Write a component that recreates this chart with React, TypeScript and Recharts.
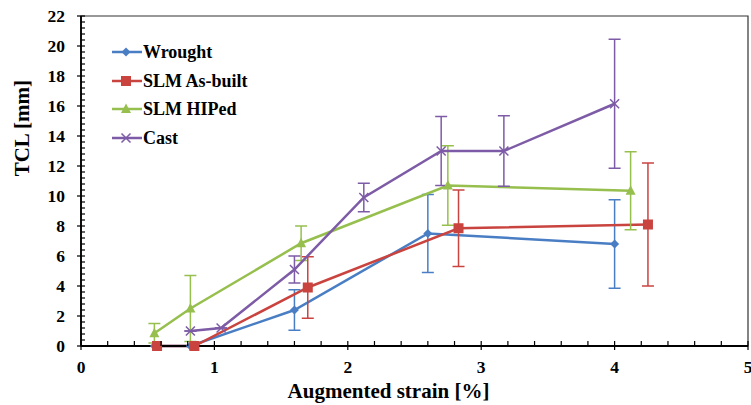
import {
  ComposedChart,
  Line,
  XAxis,
  YAxis,
  ErrorBar,
  ReferenceArea,
} from 'recharts';

// ---- data ----
const wroughtX = [0.55, 0.82, 1.6, 2.6, 4.0];
const wroughtY = [0, 0, 2.4, 7.5, 6.8];
const wroughtErr = [0, 0, 1.35, 2.6, 2.95];

const asBuiltX = [0.57, 0.85, 1.7, 2.83, 4.25];
const asBuiltY = [0, 0, 3.9, 7.85, 8.1];
const asBuiltErr = [0, 0, 2.05, 2.55, 4.1];

const hipedX = [0.55, 0.82, 1.65, 2.75, 4.12];
const hipedY = [0.85, 2.5, 6.85, 10.7, 10.35];
const hipedErr = [0.65, 2.2, 1.15, 2.65, 2.6];

const castX = [0.82, 1.05, 1.6, 2.12, 2.7, 3.17, 4.0];
const castY = [1.0, 1.2, 5.1, 9.9, 13.0, 13.0, 16.15];
const castErr = [0, 0, 0.9, 0.95, 2.3, 2.35, 4.3];

const xLabels = [0, 1, 2, 3, 4, 5];
const yLabels = [0, 2, 4, 6, 8, 10, 12, 14, 16, 18, 20, 22];

const FONT = '"Liberation Serif", "Times New Roman", serif';

type Marker = 'diamond' | 'square' | 'triangle' | 'cross';

const build = (xs: number[], ys: number[], es: number[]) =>
  xs.map((x, i) => ({ x, y: ys[i], err: [es[i], es[i]] }));

const series = [
  { name: 'Wrought', color: '#4A7EC4', marker: 'diamond' as Marker, data: build(wroughtX, wroughtY, wroughtErr) },
  { name: 'SLM As-built', color: '#C9433F', marker: 'square' as Marker, data: build(asBuiltX, asBuiltY, asBuiltErr) },
  { name: 'SLM HIPed', color: '#96BF4E', marker: 'triangle' as Marker, data: build(hipedX, hipedY, hipedErr) },
  { name: 'Cast', color: '#7D5BA6', marker: 'cross' as Marker, data: build(castX, castY, castErr) },
];

// minor tick positions (axis decoration only)
const steps = (max: number, step: number) =>
  Array.from({ length: Math.round(max / step) + 1 }, (_, i) => +(i * step).toFixed(2));
const xTicks = steps(5, 0.2);
const yTicks = steps(22, 0.4);

function MarkerShape({ cx, cy, kind, color }: { cx: number; cy: number; kind: Marker; color: string }) {
  switch (kind) {
    case 'diamond':
      return <path d={`M${cx},${cy - 4.5}L${cx + 4.5},${cy}L${cx},${cy + 4.5}L${cx - 4.5},${cy}Z`} fill={color} />;
    case 'square':
      return <rect x={cx - 5} y={cy - 5} width={10} height={10} fill={color} />;
    case 'triangle':
      return <path d={`M${cx},${cy - 5.5}L${cx + 5},${cy + 4}L${cx - 5},${cy + 4}Z`} fill={color} />;
    default:
      return (
        <path
          d={`M${cx - 4.5},${cy - 4.5}L${cx + 4.5},${cy + 4.5}M${cx - 4.5},${cy + 4.5}L${cx + 4.5},${cy - 4.5}`}
          stroke={color}
          strokeWidth={1.5}
        />
      );
  }
}

const makeDot = (kind: Marker, color: string) => (props: any) => {
  const { cx, cy, index } = props;
  if (cx == null || cy == null) return <g key={index} />;
  return (
    <g key={`${kind}-${index}`}>
      <MarkerShape cx={cx} cy={cy} kind={kind} color={color} />
    </g>
  );
};

const labelStyle = { fontFamily: FONT, fontWeight: 700, fontSize: 17.5 };
const titleStyle = { fontFamily: FONT, fontWeight: 700, fontSize: 21 };

// bottom axis: minor ticks point inward, major ticks cross the axis
function XTick(props: any) {
  const { x, y, payload } = props;
  const v = payload.value;
  const major = xLabels.includes(v);
  return (
    <g>
      <line x1={x} y1={y - 5} x2={x} y2={major ? y + 4 : y} stroke="#000" strokeWidth={1.2} />
      {major && (
        <text x={x} y={y + 27} textAnchor="middle" style={labelStyle} fill="#000">
          {v}
        </text>
      )}
    </g>
  );
}

function YTick(props: any) {
  const { x, y, payload } = props;
  const v = payload.value;
  const major = yLabels.includes(v);
  return (
    <g>
      <line x1={major ? x - 4 : x} y1={y} x2={x + 4} y2={y} stroke="#000" strokeWidth={1.2} />
      {major && (
        <text x={x - 16} y={y + 6} textAnchor="end" style={labelStyle} fill="#000">
          {v}
        </text>
      )}
    </g>
  );
}

function LegendBox() {
  return (
    <div
      style={{
        position: 'absolute',
        left: 112,
        top: 38,
        fontFamily: FONT,
        fontWeight: 700,
        fontSize: 18,
        color: '#000',
        lineHeight: 1,
      }}
    >
      {series.map((s) => (
        <div key={s.name} style={{ display: 'flex', alignItems: 'center', height: 28.5 }}>
          <svg width={30} height={14} style={{ marginRight: 1 }}>
            <line x1={0} y1={7} x2={30} y2={7} stroke={s.color} strokeWidth={2.5} />
            <MarkerShape cx={14} cy={7} kind={s.marker} color={s.color} />
          </svg>
          <span>{s.name}</span>
        </div>
      ))}
    </div>
  );
}

export default function App() {
  return (
    <div style={{ position: 'absolute', left: 0, top: 0, width: 751, height: 405, background: '#fff' }}>
      <ComposedChart width={751} height={405} margin={{ top: 16, right: 3, left: 0, bottom: 0 }}>
        <XAxis
          type="number"
          dataKey="x"
          domain={[0, 5]}
          ticks={xTicks}
          interval={0}
          height={59}
          tickSize={0}
          tickMargin={0}
          tick={<XTick />}
          tickLine={false}
          axisLine={{ stroke: '#000', strokeWidth: 1.8 }}
          label={(props: any) => {
            const vb = props.viewBox;
            return (
              <text
                x={vb.x + vb.width / 2 - 26}
                y={vb.y + 52}
                textAnchor="middle"
                style={titleStyle}
                fill="#000"
              >
                Augmented strain [%]
              </text>
            );
          }}
        />
        <YAxis
          type="number"
          domain={[0, 22]}
          ticks={yTicks}
          interval={0}
          width={81}
          tickSize={0}
          tickMargin={0}
          tick={<YTick />}
          tickLine={false}
          axisLine={{ stroke: '#000', strokeWidth: 1.8 }}
          label={(props: any) => {
            const vb = props.viewBox;
            const cx = 22;
            const cy = vb.y + vb.height * 0.34;
            return (
              <text
                x={cx}
                y={cy}
                transform={`rotate(-90 ${cx} ${cy})`}
                textAnchor="middle"
                dominantBaseline="central"
                style={titleStyle}
                fill="#000"
              >
                TCL [mm]
              </text>
            );
          }}
        />
        <ReferenceArea x1={0} x2={5} y1={0} y2={22} fill="none" stroke="#333" strokeWidth={1.2} />
        {series.map((s) => (
          <Line
            key={s.name}
            name={s.name}
            data={s.data}
            dataKey="y"
            type="linear"
            stroke={s.color}
            strokeWidth={2.5}
            dot={makeDot(s.marker, s.color)}
            activeDot={false}
            isAnimationActive={false}
          >
            <ErrorBar dataKey="err" direction="y" width={6} stroke={s.color} strokeWidth={1.5} />
          </Line>
        ))}
      </ComposedChart>
      <LegendBox />
    </div>
  );
}
